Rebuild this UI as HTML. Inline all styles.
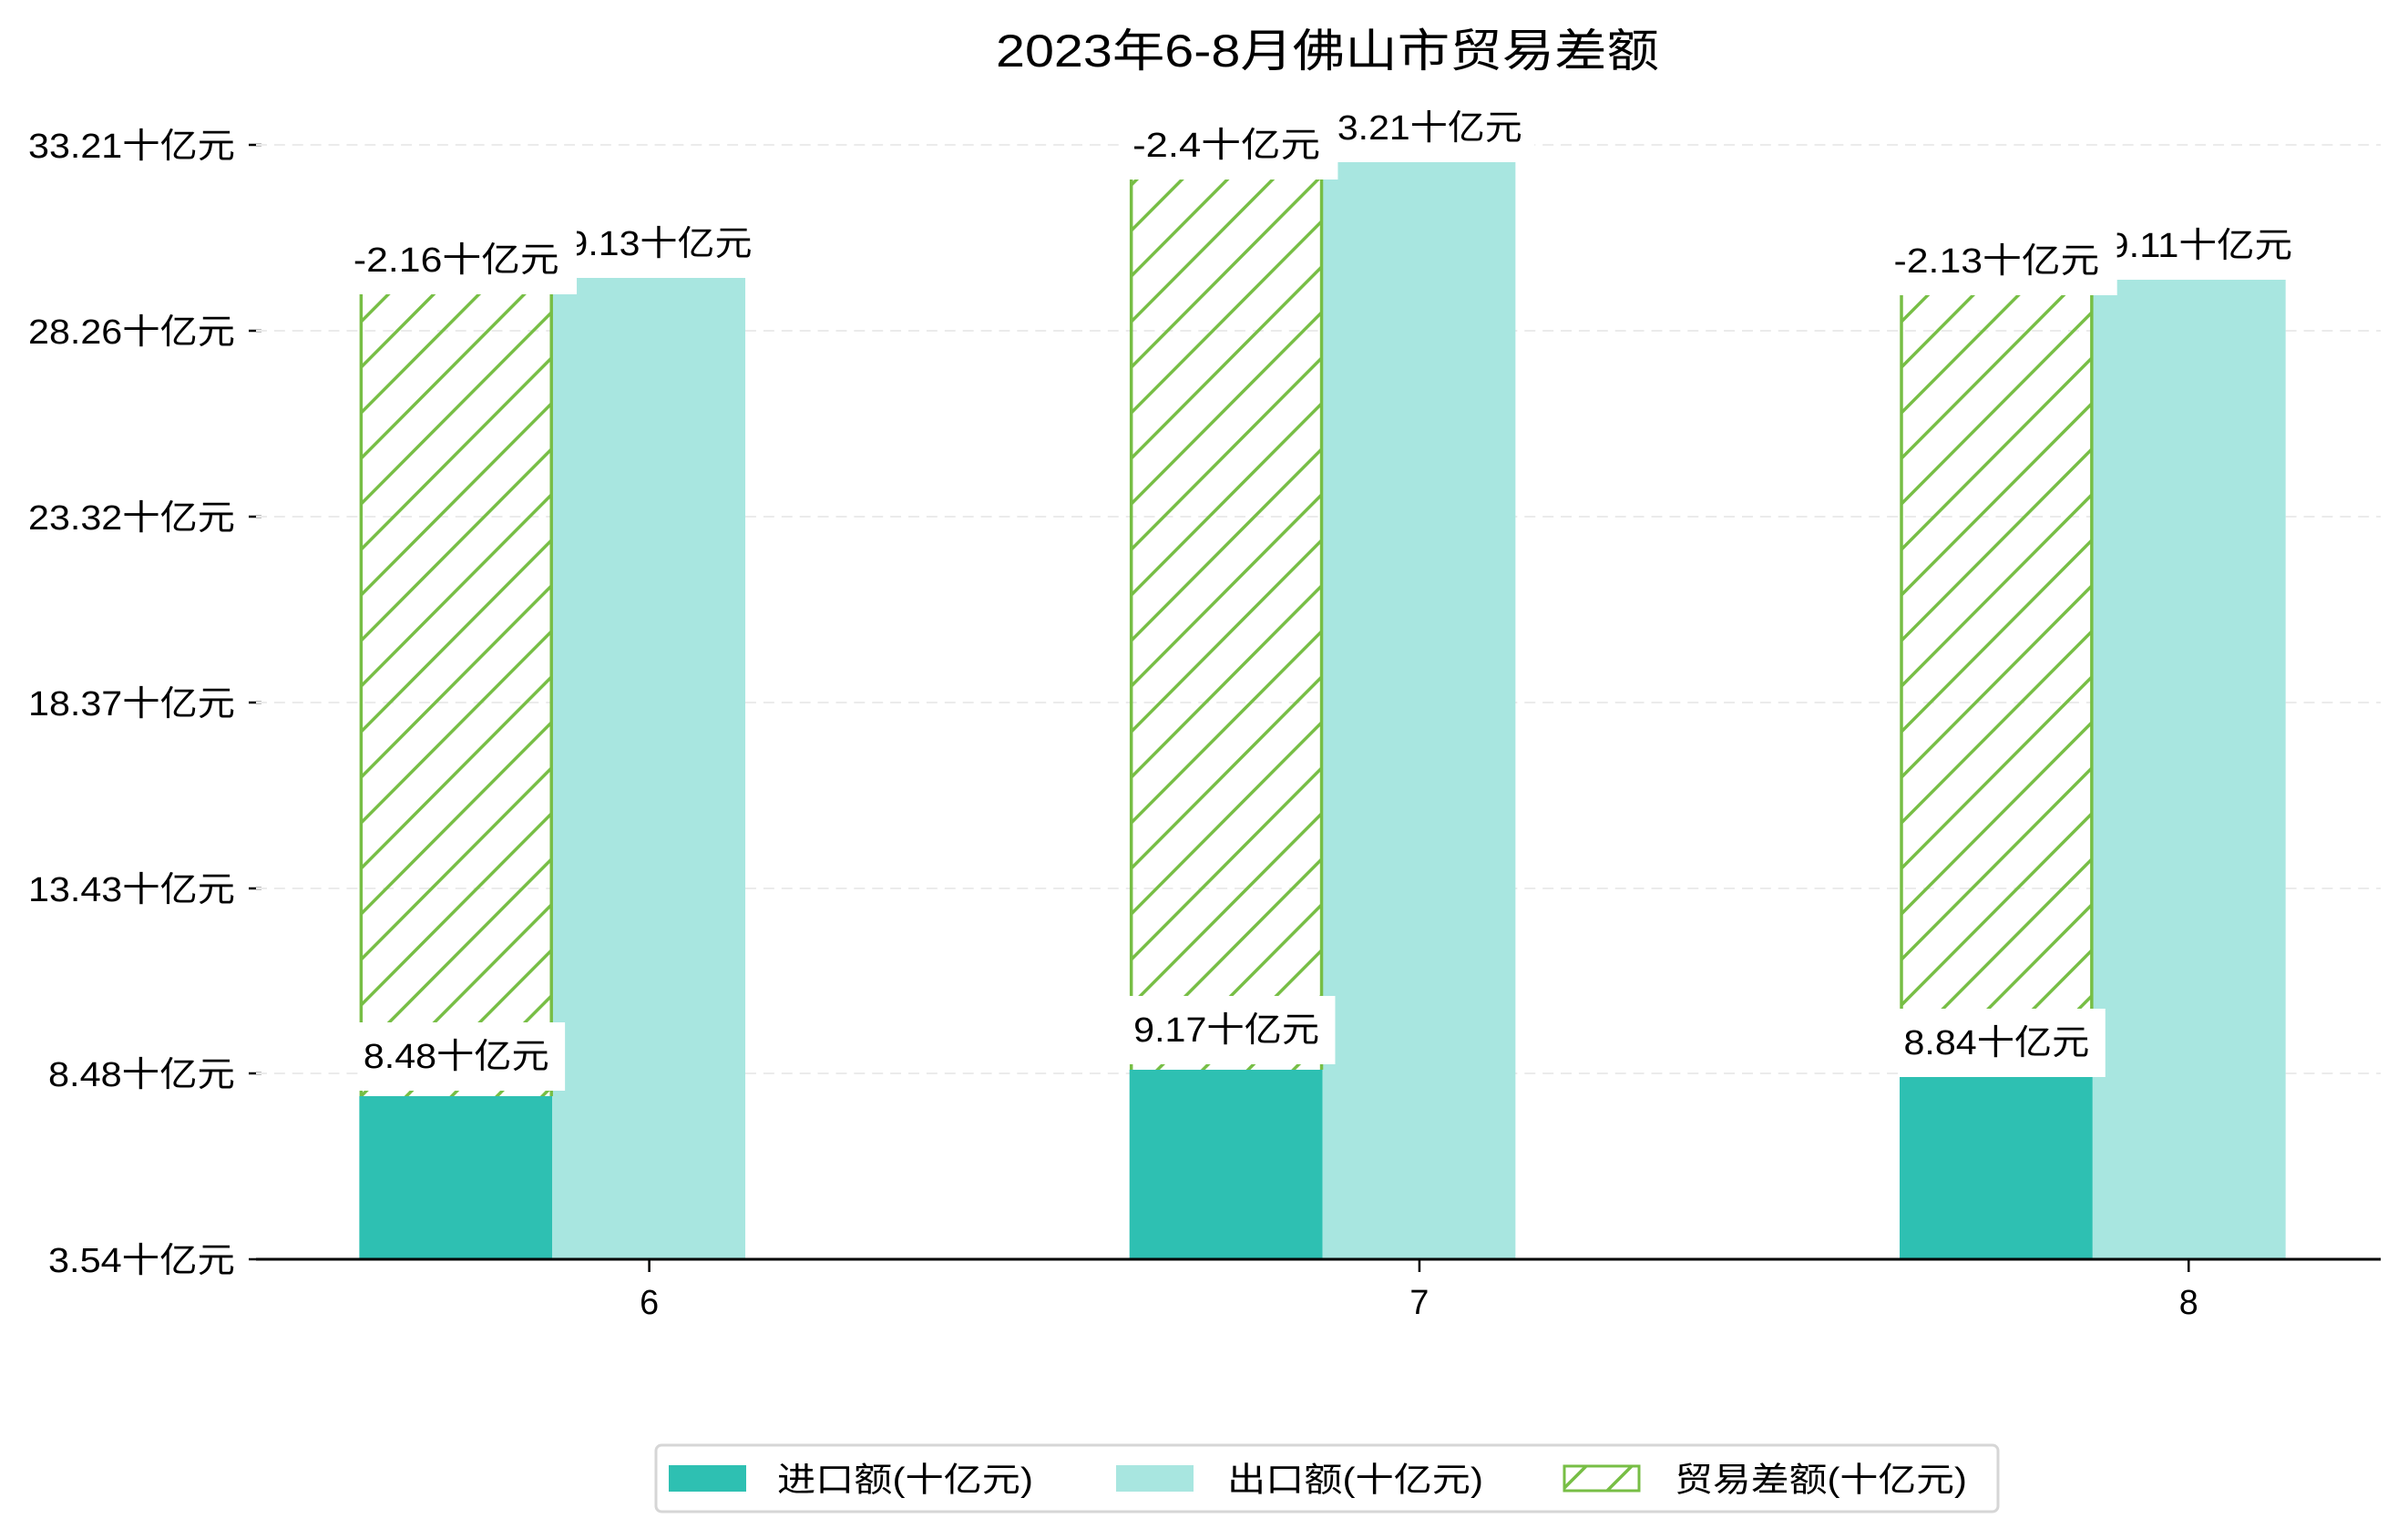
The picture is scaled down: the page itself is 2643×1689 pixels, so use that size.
<!DOCTYPE html>
<html><head><meta charset="utf-8"><style>
html,body{margin:0;padding:0;background:#fff;}
svg{display:block;font-family:"Liberation Sans","Noto Sans CJK SC",sans-serif;}
</style></head><body>
<svg width="2643" height="1689" viewBox="0 0 2643 1689" xmlns="http://www.w3.org/2000/svg">
<defs>
<pattern id="h" patternUnits="userSpaceOnUse" width="50" height="50">
<path d="M-12.5,12.5 l25,-25 M0,50 l50,-50 M37.5,62.5 l25,-25" stroke="#77BE45" stroke-width="3.5"/>
</pattern>
</defs>
<rect width="2643" height="1689" fill="#fff"/>
<text x="1457" y="56" font-size="50" text-anchor="middle" dominant-baseline="central" textLength="728" lengthAdjust="spacingAndGlyphs">2023年6-8月佛山市贸易差额</text>
<g stroke="#000" stroke-width="2.5">
<line x1="273" x2="287" y1="159" y2="159"/><line x1="273" x2="287" y1="363" y2="363"/>
<line x1="273" x2="287" y1="567" y2="567"/><line x1="273" x2="287" y1="771" y2="771"/>
<line x1="273" x2="287" y1="975" y2="975"/><line x1="273" x2="287" y1="1178" y2="1178"/>
<line x1="273" x2="287" y1="1382" y2="1382"/>
</g>
<g font-size="38" text-anchor="end" dominant-baseline="central" lengthAdjust="spacingAndGlyphs">
<text x="258" y="161" textLength="227" lengthAdjust="spacingAndGlyphs">33.21十亿元</text><text x="258" y="365" textLength="227" lengthAdjust="spacingAndGlyphs">28.26十亿元</text>
<text x="258" y="569" textLength="227" lengthAdjust="spacingAndGlyphs">23.32十亿元</text><text x="258" y="773" textLength="227" lengthAdjust="spacingAndGlyphs">18.37十亿元</text>
<text x="258" y="977" textLength="227" lengthAdjust="spacingAndGlyphs">13.43十亿元</text><text x="258" y="1180" textLength="205" lengthAdjust="spacingAndGlyphs">8.48十亿元</text>
<text x="258" y="1384" textLength="205" lengthAdjust="spacingAndGlyphs">3.54十亿元</text>
</g>
<g transform="translate(281,0) scale(0.9945,1) translate(-281,0)">
<g stroke="#ebebeb" stroke-width="2" stroke-dasharray="12,8">
<line x1="281" x2="2626" y1="159" y2="159"/><line x1="281" x2="2626" y1="363" y2="363"/>
<line x1="281" x2="2626" y1="567" y2="567"/><line x1="281" x2="2626" y1="771" y2="771"/>
<line x1="281" x2="2626" y1="975" y2="975"/><line x1="281" x2="2626" y1="1178" y2="1178"/>
</g>
<g stroke="#000" stroke-width="2.5">
<line x1="715" x2="715" y1="1382" y2="1396"/><line x1="1565" x2="1565" y1="1382" y2="1396"/><line x1="2414" x2="2414" y1="1382" y2="1396"/>
</g>
<g font-size="38" text-anchor="middle" dominant-baseline="central">
<text x="715" y="1430">6</text><text x="1565" y="1430">7</text><text x="2414" y="1430">8</text>
</g>
<g fill="#2EC0B2">
<rect x="395" y="1203" width="213" height="179"/>
<rect x="1245" y="1174" width="213" height="208"/>
<rect x="2095" y="1182" width="213" height="200"/>
</g>
<g fill="#A8E6E0">
<rect x="608" y="305" width="213" height="1077"/>
<rect x="1458" y="178" width="213" height="1204"/>
<rect x="2308" y="307" width="213" height="1075"/>
</g>
<g fill="url(#h)">
<rect x="396" y="323" width="212" height="880"/>
<rect x="1246" y="197" width="212" height="977"/>
<rect x="2096" y="324" width="212" height="858"/>
</g>
<g stroke="#77BE45" stroke-width="3.5">
<line x1="397" x2="397" y1="323" y2="1203"/><line x1="607" x2="607" y1="323" y2="1203"/>
<line x1="1247" x2="1247" y1="197" y2="1174"/><line x1="1457" x2="1457" y1="197" y2="1174"/>
<line x1="2097" x2="2097" y1="324" y2="1182"/><line x1="2307" x2="2307" y1="324" y2="1182"/>
</g>
<line x1="281" x2="2626" y1="1382" y2="1382" stroke="#000" stroke-width="3"/>
<g font-size="38" text-anchor="middle" dominant-baseline="central">
<rect x="588" y="230" width="254" height="75" fill="#fff"/><text x="715" y="268" textLength="227" lengthAdjust="spacingAndGlyphs">29.13十亿元</text>
<rect x="1438" y="103" width="254" height="75" fill="#fff"/><text x="1565" y="141" textLength="227" lengthAdjust="spacingAndGlyphs">33.21十亿元</text>
<rect x="2288" y="232" width="254" height="75" fill="#fff"/><text x="2415" y="270" textLength="227" lengthAdjust="spacingAndGlyphs">29.11十亿元</text>
<rect x="372" y="248" width="263" height="75" fill="#fff"/><text x="502" y="286" textLength="227" lengthAdjust="spacingAndGlyphs">-2.16十亿元</text>
<rect x="1236" y="122" width="239" height="75" fill="#fff"/><text x="1352" y="160" textLength="207" lengthAdjust="spacingAndGlyphs">-2.4十亿元</text>
<rect x="2072" y="249" width="263" height="75" fill="#fff"/><text x="2202" y="287" textLength="227" lengthAdjust="spacingAndGlyphs">-2.13十亿元</text>
<rect x="394" y="1122" width="228" height="75" fill="#fff"/><text x="502" y="1160" textLength="205" lengthAdjust="spacingAndGlyphs">8.48十亿元</text>
<rect x="1244" y="1093" width="228" height="75" fill="#fff"/><text x="1352" y="1131" textLength="205" lengthAdjust="spacingAndGlyphs">9.17十亿元</text>
<rect x="2094" y="1107" width="228" height="75" fill="#fff"/><text x="2202" y="1145" textLength="205" lengthAdjust="spacingAndGlyphs">8.84十亿元</text>
</g>
</g>
<rect x="720" y="1586" width="1473" height="73" rx="6" fill="#fff" stroke="#d6d6d6" stroke-width="3"/>
<rect x="734" y="1608" width="85" height="29" fill="#2EC0B2"/>
<rect x="1225" y="1608" width="85" height="29" fill="#A8E6E0"/>
<rect x="1717" y="1609" width="82" height="27" fill="url(#h)" stroke="#77BE45" stroke-width="3"/>
<g font-size="37" dominant-baseline="central">
<text x="853" y="1624" textLength="281" lengthAdjust="spacingAndGlyphs">进口额(十亿元)</text>
<text x="1347" y="1624" textLength="281" lengthAdjust="spacingAndGlyphs">出口额(十亿元)</text>
<text x="1838" y="1624" textLength="321" lengthAdjust="spacingAndGlyphs">贸易差额(十亿元)</text>
</g>
</svg>
</body></html>
